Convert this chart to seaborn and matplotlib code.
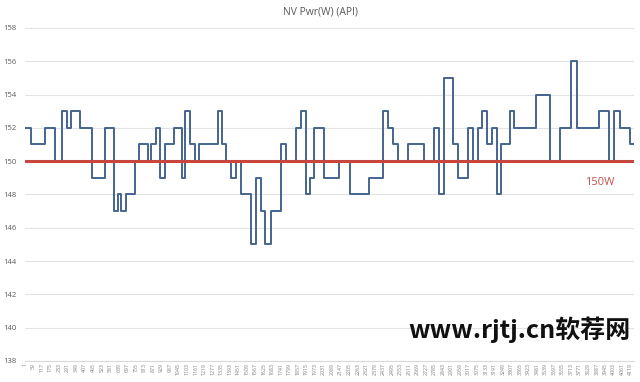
#!/usr/bin/env python3
import matplotlib

matplotlib.use("Agg")
import matplotlib.pyplot as plt
import pandas as pd
import seaborn as sns


# sample index where each constant-power run begins, and its power (W)
run_start = [
    1, 45, 140, 202, 256, 290, 317, 372, 460, 542,
    603, 630, 657, 691, 746, 773, 834, 861, 895, 922,
    950, 1011, 1065, 1092, 1126, 1154, 1181, 1310, 1337, 1364,
    1398, 1432, 1466, 1534, 1568, 1602, 1630, 1670, 1738, 1772,
    1840, 1874, 1908, 1936, 1963, 2031, 2133, 2208, 2337, 2432,
    2466, 2500, 2534, 2602, 2711, 2779, 2813, 2847, 2908, 2942,
    3010, 3044, 3078, 3105, 3139, 3173, 3207, 3234, 3296, 3323,
    3472, 3568, 3636, 3710, 3751, 3901, 3969, 4003, 4044, 4112,
]
run_watts = [
    152, 151, 152, 150, 153, 152, 153, 152, 149, 152,
    147, 148, 147, 148, 150, 151, 150, 151, 152, 149,
    151, 152, 149, 153, 151, 150, 151, 153, 151, 150,
    149, 150, 148, 145, 149, 147, 145, 147, 151, 150,
    152, 153, 148, 149, 152, 149, 150, 148, 149, 153,
    152, 151, 150, 151, 150, 152, 148, 155, 151, 149,
    152, 150, 152, 153, 151, 152, 148, 151, 153, 152,
    154, 150, 152, 156, 152, 153, 150, 153, 152, 151,
]
last_sample = 4142
limit_w = 150
x_ticks = list(range(1, 4120, 58))
y_ticks = list(range(138, 159, 2))

df = pd.DataFrame({
    "sample": run_start + [last_sample],
    "watts": run_watts + [run_watts[-1]],
})

sns.set_theme(style="white")
plt.rcParams["font.family"] = ["Open Sans", "Noto Sans CJK SC", "DejaVu Sans"]

fig = plt.figure(figsize=(6.4, 3.82), dpi=100)
ax = fig.add_axes([0.039, 0.055, 0.952, 0.872])

sns.lineplot(
    data=df, x="sample", y="watts",
    drawstyle="steps-post", estimator=None,
    color="#44648f", linewidth=1.4, ax=ax,
)
ax.axhline(limit_w, color="#c9463d", linewidth=2.2, zorder=3)
ax.text(3905, 148.7, "150W", color="#c0504d", fontsize=8, ha="center", va="center")

ax.set_xlim(1, last_sample)
ax.set_ylim(138, 158)
ax.set_xticks(x_ticks)
ax.set_xticklabels([str(t) for t in x_ticks], rotation=90, fontsize=3.8, color="#7f7f7f")
ax.set_yticks(y_ticks)
ax.set_yticklabels([str(t) for t in y_ticks], fontsize=5.5, color="#595959")
ax.tick_params(axis="x", length=0, pad=1.5)
ax.tick_params(axis="y", length=0, pad=6)
ax.yaxis.grid(True, color="#e3e3e3", linewidth=0.8)
ax.set_xlabel("")
ax.set_ylabel("")
for side in ["top", "right", "left"]:
    ax.spines[side].set_visible(False)
ax.spines["bottom"].set_color("#d9d9d9")
ax.spines["bottom"].set_linewidth(0.8)

fig.text(0.5, 1 - 12 / 382, "NV Pwr(W) (API)", ha="center", va="center",
         fontsize=7.5, color="#595959")
fig.text(0.985, 0.137, "www.rjtj.cn软荐网", ha="right", va="center",
         fontsize=18, weight="bold", color="#111111",
         family=["Noto Sans CJK SC", "DejaVu Sans"])

fig.savefig("out.png", dpi=100)
